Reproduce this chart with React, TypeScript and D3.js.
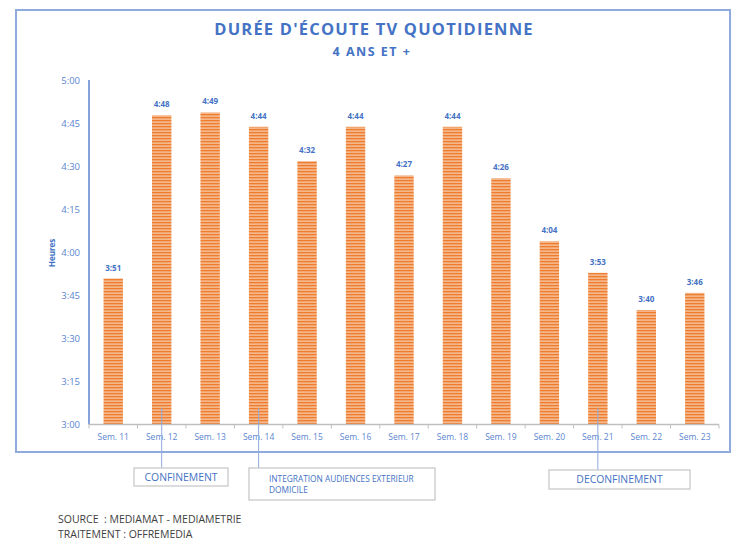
import React from "react";
import * as d3 from "d3";

const categories = ["Sem. 11","Sem. 12","Sem. 13","Sem. 14","Sem. 15","Sem. 16","Sem. 17","Sem. 18","Sem. 19","Sem. 20","Sem. 21","Sem. 22","Sem. 23"];
const valueLabels = ["3:51","4:48","4:49","4:44","4:32","4:44","4:27","4:44","4:26","4:04","3:53","3:40","3:46"];
const yTickMinutes = [180,195,210,225,240,255,270,285,300];
const annotations = [
  { cat: "Sem. 12", lines: ["CONFINEMENT"] },
  { cat: "Sem. 14", lines: ["INTEGRATION AUDIENCES EXTERIEUR", "DOMICILE"] },
  { cat: "Sem. 21", lines: ["DECONFINEMENT"] },
];
const footer = ["SOURCE  : MEDIAMAT - MEDIAMETRIE", "TRAITEMENT : OFFREMEDIA"];

const toMin = (s: string) => { const [h, m] = s.split(":").map(Number); return h * 60 + m; };
const fmt = (m: number) => `${Math.floor(m / 60)}:${String(m % 60).padStart(2, "0")}`;

const BLUE = "#4472C4";
const LBLUE = "#5B86D0";
const FONT = "'Open Sans', sans-serif";

export default function App() {
  const W = 750, H = 551;
  const left = 89, right = 719, top = 81, bottom = 424.5;
  const x = d3.scaleBand<string>().domain(categories).range([left, right]).paddingInner(0.6).paddingOuter(0.3);
  const y = d3.scaleLinear().domain([180, 300]).range([bottom, top]);
  const bandEdges = d3.range(categories.length + 1).map(i => left + (right - left) * i / categories.length);

  const boxes = [
    { x0: 134, x1: 228, y0: 468, y1: 486 },
    { x0: 249, x1: 435, y0: 468, y1: 500 },
    { x0: 549, x1: 690, y0: 470, y1: 489 },
  ];

  return (
    <svg width={W} height={H} style={{ position: "absolute", left: 0, top: 0, background: "#fff" }}>
      <defs>
        <pattern id="stripes" patternUnits="userSpaceOnUse" width="4" height="3">
          <rect width="4" height="3" fill="#F5B789" />
          <rect width="4" height="1.3" y="0" fill="#EE7D2F" />
        </pattern>
      </defs>
      <rect x={0} y={0} width={W} height={H} fill="#fff" />
      <rect x={16} y={10} width={714} height={442} fill="none" stroke="#8FAADC" strokeWidth={2} />

      <text x={374} y={35} textAnchor="middle" fill={BLUE} fontFamily={FONT} fontWeight="bold" fontSize={16.5} letterSpacing={1.2}>DURÉE D'ÉCOUTE TV QUOTIDIENNE</text>
      <text x={372} y={56} textAnchor="middle" fill={BLUE} fontFamily={FONT} fontWeight="bold" fontSize={12.5} letterSpacing={1.5}>4 ANS ET +</text>

      {/* y axis */}
      <line x1={left} x2={left} y1={top - 1} y2={bottom} stroke={BLUE} strokeWidth={1.3} />
      {yTickMinutes.map(m => (
        <text key={m} x={80} y={y(m)} dy="0.35em" textAnchor="end" fill={LBLUE} fontFamily={FONT} fontSize={9.5}>{fmt(m)}</text>
      ))}
      <text transform={`translate(55,253) rotate(-90)`} textAnchor="middle" fill={BLUE} fontFamily={FONT} fontSize={8} fontWeight="bold">Heures</text>

      {/* bars */}
      {categories.map((c, i) => {
        const v = toMin(valueLabels[i]);
        const bx = x(c)!;
        return (
          <g key={c}>
            <rect x={bx} y={y(v)} width={x.bandwidth()} height={bottom - y(v)} fill="url(#stripes)" />
            <text x={bx + x.bandwidth() / 2} y={y(v) - 8} textAnchor="middle" fill={BLUE} fontFamily={FONT} fontWeight="bold" fontSize={8}>{valueLabels[i]}</text>
            <text x={bx + x.bandwidth() / 2} y={440} textAnchor="middle" fill={LBLUE} fontFamily={FONT} fontSize={8.5}>{c}</text>
          </g>
        );
      })}

      {/* x axis */}
      <line x1={left} x2={right} y1={bottom} y2={bottom} stroke="#BFBFBF" strokeWidth={1.3} />
      {bandEdges.map((e, i) => (
        <line key={i} x1={e} x2={e} y1={bottom} y2={bottom + 4} stroke="#BFBFBF" strokeWidth={1} />
      ))}

      {/* annotations */}
      {annotations.map((a, i) => {
        const cx = x(a.cat)! + x.bandwidth() / 2;
        const b = boxes[i];
        return (
          <g key={a.cat}>
            <line x1={cx} x2={cx} y1={408} y2={b.y0} stroke="#8FAADC" strokeWidth={1} />
            <rect x={b.x0} y={b.y0} width={b.x1 - b.x0} height={b.y1 - b.y0} fill="#fff" stroke="#C9C9C9" strokeWidth={1.3} />
            {a.lines.length === 1 ? (
              <text x={(b.x0 + b.x1) / 2} y={(b.y0 + b.y1) / 2} dy="0.35em" textAnchor="middle" fill={BLUE} fontFamily={FONT} fontSize={10.4}>{a.lines[0]}</text>
            ) : (
              a.lines.map((l, j) => (
                <text key={j} x={b.x0 + 20} y={b.y0 + 14 + j * 11} fill={BLUE} fontFamily={FONT} fontSize={8.3}>{l}</text>
              ))
            )}
          </g>
        );
      })}

      {footer.map((f, i) => (
        <text key={i} x={58} y={523 + i * 15} fill="#404040" fontFamily={FONT} fontSize={10.5} style={{ whiteSpace: "pre" }}>{f}</text>
      ))}
    </svg>
  );
}
